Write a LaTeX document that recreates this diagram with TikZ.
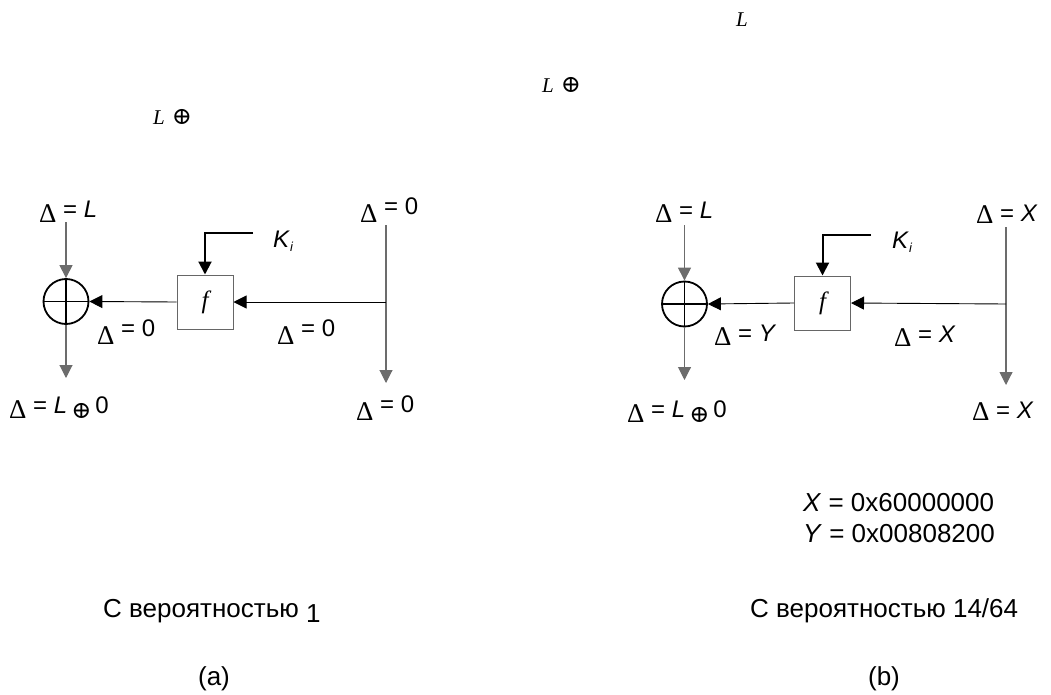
\documentclass[tikz,border=0pt]{standalone}
\usepackage{fontspec}
\setmainfont{Liberation Sans}
\newfontfamily\serf{Liberation Serif}
\newfontfamily\dejas{DejaVu Serif}
\usetikzlibrary{arrows.meta}
\newcommand{\Dl}[1]{\raisebox{-#1pt}{\fontsize{27}{30}\selectfont\serf Δ}}
\newcommand{\xorsym}{{\dejas ⊕}}
\newcommand{\Kisub}{\textit{K}\raisebox{-4pt}{\fontsize{13}{13}\selectfont\textit{i}}}
\begin{document}
\begin{tikzpicture}[x=1pt,y=-1pt,
  vline/.style={draw=gray!85!black, line width=1.1pt},
  arr/.style={-{Triangle[length=13pt,width=13pt]}},
  hline/.style={draw=black, line width=0.9pt},
  kline/.style={draw=black, line width=2pt},
  xorbox/.style={circle, draw=black, line width=1.8pt, minimum size=45pt, inner sep=0pt},
  fbox/.style={rectangle, draw=gray!80!black, line width=1pt, minimum width=56pt, minimum height=54pt, inner sep=0pt, font=\fontsize{25}{28}\selectfont\serf\itshape},
  lbl/.style={anchor=base west, inner sep=0pt, font=\fontsize{24}{28}\selectfont},
  big/.style={anchor=base west, inner sep=0pt, font=\fontsize{26}{30}\selectfont},
  stray/.style={anchor=base west, inner sep=0pt, font=\fontsize{21}{25}\selectfont\serf\itshape}]
\useasboundingbox (0,0) rectangle (1051,695);

% stray texts
\node[stray] (s1) at (736,27) {L};
\node[stray] (s2) at (542,93) {L\hspace{7pt}{\upshape\fontsize{24}{25}\selectfont\dejas ⊕}};
\node[stray] (s3) at (153,125) {L\hspace{7pt}{\upshape\fontsize{24}{25}\selectfont\dejas ⊕}};

% ---------- (a) ----------
\node[xorbox] (xa) at (66,301.5) {};
\draw[line width=1.8pt] (xa.north) -- (xa.south) (xa.west) -- (xa.east);
\node[fbox] (fa) at (205,302) {f};
\coordinate (la1) at (66,222);
\coordinate (la2) at (66,378);
\coordinate (ra1) at (386,225);
\coordinate (ra2) at (386,383);
\coordinate (ram) at (386,302);
\coordinate (ka) at (253,233);
\draw[vline,arr] (la1) -- (xa.north);
\draw[vline,arr] (xa.south) -- (la2);
\draw[vline,arr] (ra1) -- (ra2);
\draw[hline,arr] (ram) -- (fa.east);
\draw[hline,arr] (fa.west) -- (xa.east);
\draw[kline,arr] (ka) -| (fa.north);

\node[lbl] (a1) at (39,217) {\Dl{5}\ = \textit{L}};
\node[lbl] (a2) at (360,214) {\Dl{8}\ = 0};
\node[lbl] (a3) at (97,336) {\Dl{8}\ = 0};
\node[lbl] (a4) at (277,336) {\Dl{8}\ = 0};
\node[lbl] (a5) at (9,413) {\Dl{5}\ = \textit{L}\,\raisebox{-5pt}{\xorsym}\,0};
\node[lbl] (a6) at (356,412) {\Dl{8}\ = 0};
\node[lbl] (a7) at (273,247) {\Kisub};

% ---------- (b) ----------
\node[xorbox] (xb) at (684.5,304) {};
\draw[line width=1.8pt] (xb.north) -- (xb.south) (xb.west) -- (xb.east);
\node[fbox] (fb) at (822.5,303) {f};
\coordinate (lb1) at (684.5,225);
\coordinate (lb2) at (684.5,380);
\coordinate (rb1) at (1006,227);
\coordinate (rb2) at (1006,385);
\coordinate (rbm) at (1006,304);
\coordinate (kb) at (871,235);
\draw[vline,arr] (lb1) -- (xb.north);
\draw[vline,arr] (xb.south) -- (lb2);
\draw[vline,arr] (rb1) -- (rb2);
\draw[hline,arr] (rbm) -- (fb.east);
\draw[hline,arr] (fb.west) -- (xb.east);
\draw[kline,arr] (kb) -| (fb.north);

\node[lbl] (b1) at (655,218) {\Dl{5}\ = \textit{L}};
\node[lbl] (b2) at (976,221) {\Dl{2}\ = \textit{X}};
\node[lbl] (b3) at (714,341) {\Dl{4}\ = \textit{Y}};
\node[lbl] (b4) at (894,342) {\Dl{4}\ = \textit{X}};
\node[lbl] (b5) at (627,417) {\Dl{5}\ = \textit{L}\,\raisebox{-5pt}{\xorsym}\,0};
\node[lbl] (b6) at (972,418) {\Dl{2}\ = \textit{X}};
\node[lbl] (b7) at (892,248) {\Kisub};

\node[big] (xv) at (803,511) {\textit{X} = 0x60000000};
\node[big] (yv) at (803,542) {\textit{Y} = 0x00808200};

% captions
\node[big] (pa) at (103,617) {С вероятностью \raisebox{-5pt}{1}};
\node[big] (pb) at (750,617) {С вероятностью 14/64};
\node[big, anchor=base] (ca) at (214,685) {(a)};
\node[big, anchor=base] (cb) at (884,685) {(b)};
\end{tikzpicture}
\end{document}
